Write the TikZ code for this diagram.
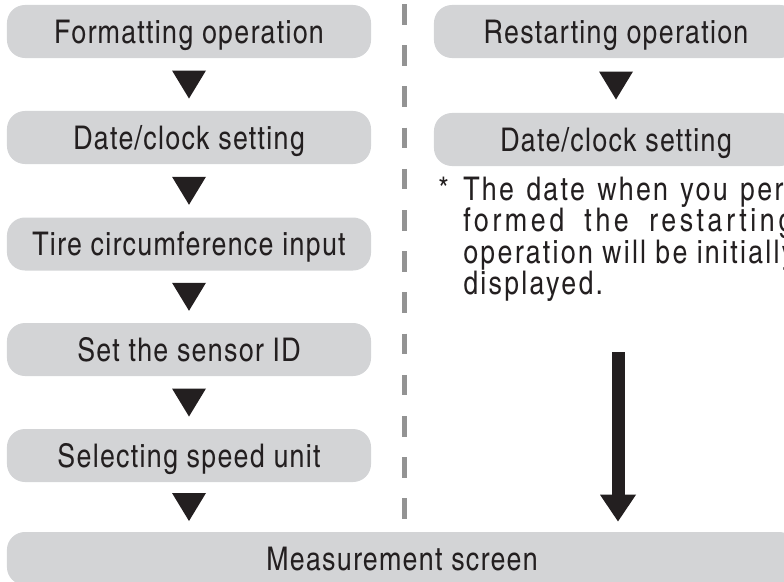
\documentclass[tikz,border=0pt]{standalone}
\usepackage{fontspec}
\setmainfont{texgyreheroscn-regular.otf}[LetterSpace=4]
\usetikzlibrary{arrows.meta,calc}

\definecolor{boxgray}{RGB}{211,212,214}
\definecolor{ink}{RGB}{35,31,32}
\definecolor{dashgray}{RGB}{147,147,147}

\tikzset{
  stepbox/.style={fill=boxgray, rounded corners=12.8pt, minimum width=258.9pt,
    minimum height=37.7pt, inner sep=0pt, text height=16.6pt, text depth=0pt,
    text=ink, font=\fontsize{23.2}{28}\selectfont},
  notetext/.style={anchor=base west, inner sep=0pt, text=ink,
    font=\fontsize{23.2}{28}\selectfont\addfontfeature{LetterSpace=7}},
  bigarrow/.style={draw=ink, line width=9.25pt, shorten >=7.1pt,
    -{Triangle[width=24.2pt,length=19.2pt]}},
  separator/.style={draw=dashgray, line width=3.9pt, dash pattern=on 14.6pt off 14.7pt},
}
\newcommand{\downtri}[1]{\fill[ink] (#1) ++(-17,-14) -- ++(34,0) -- ++(-17,28) -- cycle;}

\begin{document}
\begin{tikzpicture}[x=0.025cm,y=-0.025cm]
\useasboundingbox (0,0) rectangle (784,581);
\clip (0,0) rectangle (784,581);

% left column
\node [stepbox] (f1) at (189,31.5) {Formatting operation};
\node [stepbox] (f2) at (189,137.5) {Date/clock setting};
\node [stepbox] (f3) at (189,244) {Tire circumference input};
\node [stepbox] (f4) at (189,349.5) {Set the sensor ID};
\node [stepbox] (f5) at (189,455.5) {Selecting speed unit};

% right column
\node [stepbox] (r1) at (616,31.5) {Restarting operation};
\node [stepbox] (r2) at (616,139.5) {Date/clock setting};
\node [notetext] (star) at (438,200) {*};
\node [notetext] (n1) at (463,200) {\makebox[227.6pt][s]{The date when you per}};
\node [notetext] (n2) at (463,231.5) {\addfontfeature{LetterSpace=11}\makebox[234.7pt][s]{formed the restarting}};
\node [notetext] (n3) at (463,263) {\makebox[236pt][s]{operation will be initially}};
\node [notetext] (n4) at (463,294.5) {displayed.};

\node [stepbox, minimum width=561.9pt] (meas) at (402,558.5) {Measurement screen};

% markers between the steps
\coordinate (t1) at ($(f1.south)!0.5!(f2.north)$);
\coordinate (t2) at ($(f2.south)!0.5!(f3.north)$);
\coordinate (t3) at ($(f3.south)!0.5!(f4.north)$);
\coordinate (t4) at ($(f4.south)!0.5!(f5.north)$);
\coordinate (t5) at ($(f5.south)!0.5!(meas.north -| f5.south)$);
\coordinate (t6) at ($(r1.south)!0.5!(r2.north)$);
\foreach \t in {t1,t2,t3,t4,t5,t6} {\downtri{\t}}

\coordinate (sepTop) at (404.5,4);
\coordinate (sepBot) at (404.5,520);
\draw[separator] (sepTop) -- (sepBot);

\coordinate (arrowTop) at (618,352);
\draw[bigarrow] (arrowTop) -- (arrowTop |- meas.north);
\end{tikzpicture}
\end{document}
